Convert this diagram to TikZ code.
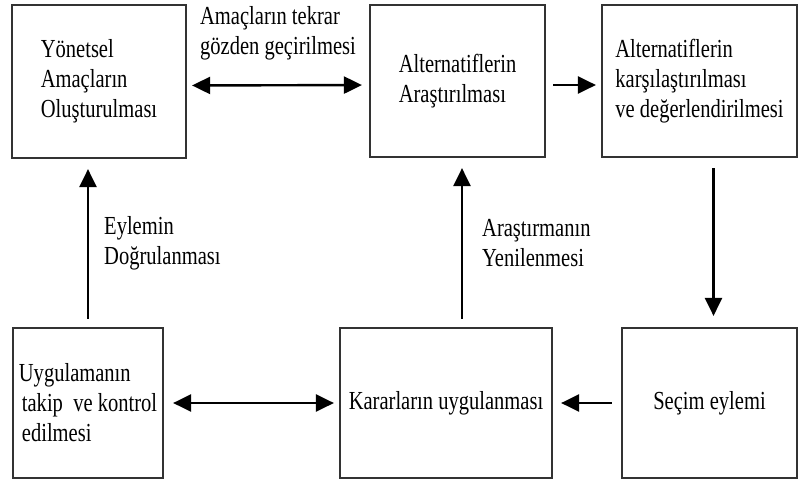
\documentclass[tikz,border=0pt]{standalone}
\usepackage{fontspec}
\setmainfont{Liberation Serif}[FakeStretch=0.79]
\usetikzlibrary{arrows.meta}

\begin{document}
\begin{tikzpicture}[x=1pt,y=-1pt,
  box/.style={draw=black!80,line width=2.2pt,inner sep=0pt,align=left},
  lbl/.style={align=left,inner sep=0pt},
  arr/.style={line width=2.4pt,-{Triangle[length=18pt,width=17pt]}},
  darr/.style={line width=2.4pt,{Triangle[length=18pt,width=17pt]}-{Triangle[length=18pt,width=17pt]}},
  every node/.style={font=\fontsize{26}{30}\selectfont}]
  \useasboundingbox[fill=white] (0,0) rectangle (802,485);

  \node[box,minimum width=174pt,minimum height=153pt] (goals) at (99,81.5)
    {Yönetsel\\Amaçların\\Oluşturulması};
  \node[box,minimum width=175pt,minimum height=152pt] (search) at (457.5,81)
    {Alternatiflerin\\Araştırılması};
  \node[box,minimum width=195pt,minimum height=152pt] (compare) at (699.5,81)
    {Alternatiflerin\\karşılaştırılması\\ve değerlendirilmesi};

  \node[box,minimum width=150pt,minimum height=150pt] (control) at (88,403)
    {Uygulamanın\\\hspace*{3pt}takip~ ve kontrol\\\hspace*{3pt}edilmesi};
  \node[box,minimum width=212pt,minimum height=150pt] (apply) at (446,403)
    {Kararların uygulanması};
  \node[box,minimum width=175pt,minimum height=150pt] (choice) at (709.5,403)
    {Seçim eylemi};

  % top row
  \draw[darr,shorten <=5pt,shorten >=7pt] ([yshift=-4pt]goals.east) -- ([yshift=-4pt]search.west);
  \draw[arr,shorten <=7pt,shorten >=5pt] ([yshift=-4pt]search.east) -- ([yshift=-4pt]compare.west);
  \node[lbl] (revise) at (278,33) {Amaçların tekrar\\gözden geçirilmesi};

  % verticals
  \draw[arr,shorten <=10pt,shorten >=11pt] ([xshift=14pt]compare.south) -- ([xshift=14pt]compare.south |- choice.north);
  \draw[arr,shorten <=8pt,shorten >=10pt] (control.north) -- (control.north |- goals.south);
  \draw[arr,shorten <=8pt,shorten >=10pt] ([xshift=4.5pt]search.south |- apply.north) -- ([xshift=4.5pt]search.south);
  \node[lbl,anchor=west] (verify) at (104,243) {Eylemin\\Doğrulanması};
  \node[lbl,anchor=west] (renew) at (482,243) {Araştırmanın\\Yenilenmesi};

  % bottom row
  \draw[arr,shorten <=9pt,shorten >=8pt] (choice.west) -- (apply.east);
  \draw[darr,shorten <=9pt,shorten >=5pt] (control.east) -- (apply.west);
\end{tikzpicture}
\end{document}
